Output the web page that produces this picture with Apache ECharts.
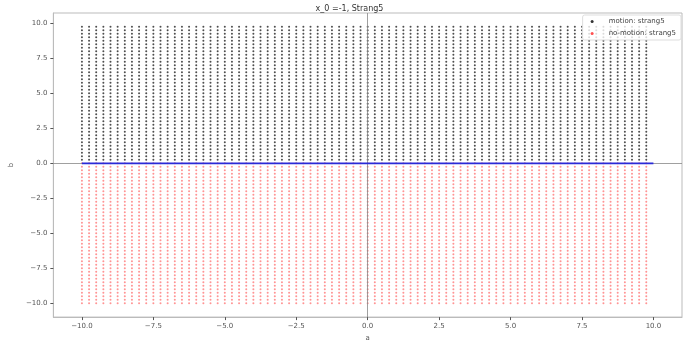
<!DOCTYPE html>
<html>
<head>
<meta charset="utf-8">
<script src="https://cdn.jsdelivr.net/npm/echarts@6/dist/echarts.min.js"></script>
<style>
  html, body { margin: 0; padding: 0; background: #fff; }
  #chart { width: 699px; height: 347px; }
</style>
</head>
<body>
<div id="chart"></div>
<script>
// Grid of sampled parameter values
const aValues = [-10,-9.75,-9.5,-9.25,-9,-8.75,-8.5,-8.25,-8,-7.75,-7.5,-7.25,-7,-6.75,-6.5,-6.25,-6,-5.75,-5.5,-5.25,-5,-4.75,-4.5,-4.25,-4,-3.75,-3.5,-3.25,-3,-2.75,-2.5,-2.25,-2,-1.75,-1.5,-1.25,-1,-0.75,-0.5,-0.25,0,0.25,0.5,0.75,1,1.25,1.5,1.75,2,2.25,2.5,2.75,3,3.25,3.5,3.75,4,4.25,4.5,4.75,5,5.25,5.5,5.75,6,6.25,6.5,6.75,7,7.25,7.5,7.75,8,8.25,8.5,8.75,9,9.25,9.5,9.75];
const bValues = [-10,-9.75,-9.5,-9.25,-9,-8.75,-8.5,-8.25,-8,-7.75,-7.5,-7.25,-7,-6.75,-6.5,-6.25,-6,-5.75,-5.5,-5.25,-5,-4.75,-4.5,-4.25,-4,-3.75,-3.5,-3.25,-3,-2.75,-2.5,-2.25,-2,-1.75,-1.5,-1.25,-1,-0.75,-0.5,-0.25,0,0.25,0.5,0.75,1,1.25,1.5,1.75,2,2.25,2.5,2.75,3,3.25,3.5,3.75,4,4.25,4.5,4.75,5,5.25,5.5,5.75,6,6.25,6.5,6.75,7,7.25,7.5,7.75,8,8.25,8.5,8.75,9,9.25,9.5,9.75];
// Boundary segment drawn at b = 0
const boundaryA = [-10, 10];
const boundaryB = [0, 0];
// Tick labels
const xTicks = [-10, -7.5, -5, -2.5, 0, 2.5, 5, 7.5, 10];
const yTicks = [-10, -7.5, -5, -2.5, 0, 2.5, 5, 7.5, 10];

const motionPts = [];
const noMotionPts = [];
for (const a of aValues) {
  for (const b of bValues) {
    if (b > 0) motionPts.push([a, b]);
    else noMotionPts.push([a, b]);
  }
}
const boundary = boundaryA.map((a, i) => [a, boundaryB[i]]);

const fmt = v => v.toFixed(1).replace('-', '\u2212');
const tickColor = '#555';
const labelStyle = { fontSize: 7, color: '#555', fontFamily: 'DejaVu Sans' };

const chart = echarts.init(document.getElementById('chart'), null, { renderer: 'canvas' });
chart.setOption({
  animation: false,
  backgroundColor: '#fff',
  title: {
    text: 'x_0 =-1, Strang5',
    left: 'center',
    top: 0,
    textStyle: { fontSize: 8, fontWeight: 'normal', color: '#333', fontFamily: 'DejaVu Sans' }
  },
  legend: {
    right: 18,
    top: 15,
    orient: 'vertical',
    itemWidth: 3,
    itemHeight: 3,
    itemGap: 5,
    padding: [3, 5, 3, 8],
    borderColor: '#ddd',
    borderWidth: 1,
    borderRadius: 2,
    backgroundColor: 'rgba(255,255,255,0.8)',
    textStyle: { fontSize: 7, color: '#444', fontFamily: 'DejaVu Sans', padding: [0, 0, 0, 10] },
    data: [
      { name: 'motion: strang5', icon: 'circle', itemStyle: { color: '#333', opacity: 1 } },
      { name: 'no-motion: strang5', icon: 'circle', itemStyle: { color: '#ff5050', opacity: 1 } }
    ]
  },
  grid: {
    left: 50, right: 17, top: 13, bottom: 27,
    show: true, borderColor: '#bbb', borderWidth: 1, backgroundColor: '#fff'
  },
  xAxis: {
    type: 'value',
    min: -11, max: 11,
    name: 'a', nameLocation: 'middle', nameGap: 17,
    nameTextStyle: { fontSize: 7, color: '#555', fontFamily: 'DejaVu Sans' },
    axisLine: { show: true, onZero: false, lineStyle: { color: '#bbb' } },
    splitLine: { show: false },
    axisTick: { show: true, length: 3, customValues: xTicks, lineStyle: { color: tickColor } },
    axisLabel: Object.assign({ customValues: xTicks, formatter: fmt, margin: 6 }, labelStyle)
  },
  yAxis: {
    type: 'value',
    min: -10.9875, max: 10.7375,
    name: 'b', nameLocation: 'middle', nameGap: 33, nameRotate: 90,
    nameTextStyle: { fontSize: 7, color: '#555', fontFamily: 'DejaVu Sans' },
    axisLine: { show: true, onZero: false, lineStyle: { color: '#bbb' } },
    splitLine: { show: false },
    axisTick: { show: true, length: 3, customValues: yTicks, lineStyle: { color: tickColor } },
    axisLabel: Object.assign({ customValues: yTicks, formatter: fmt, margin: 6 }, labelStyle)
  },
  series: [
    {
      name: 'motion: strang5',
      type: 'scatter',
      symbol: 'circle',
      symbolSize: 2,
      itemStyle: { color: '#222', opacity: 0.8 },
      data: motionPts,
      z: 2
    },
    {
      name: 'no-motion: strang5',
      type: 'scatter',
      symbol: 'circle',
      symbolSize: 2,
      itemStyle: { color: '#ff2a2a', opacity: 0.5 },
      data: noMotionPts,
      z: 2,
      markLine: {
        silent: true,
        symbol: 'none',
        label: { show: false },
        lineStyle: { color: '#888', width: 1, type: 'solid', opacity: 0.8 },
        data: [{ xAxis: 0 }, { yAxis: 0 }],
        z: 1
      }
    },
    {
      name: 'boundary',
      type: 'line',
      data: boundary,
      symbol: 'none',
      lineStyle: { color: '#2a2ad8', width: 1.8 },
      z: 5
    }
  ]
});
</script>
</body>
</html>
